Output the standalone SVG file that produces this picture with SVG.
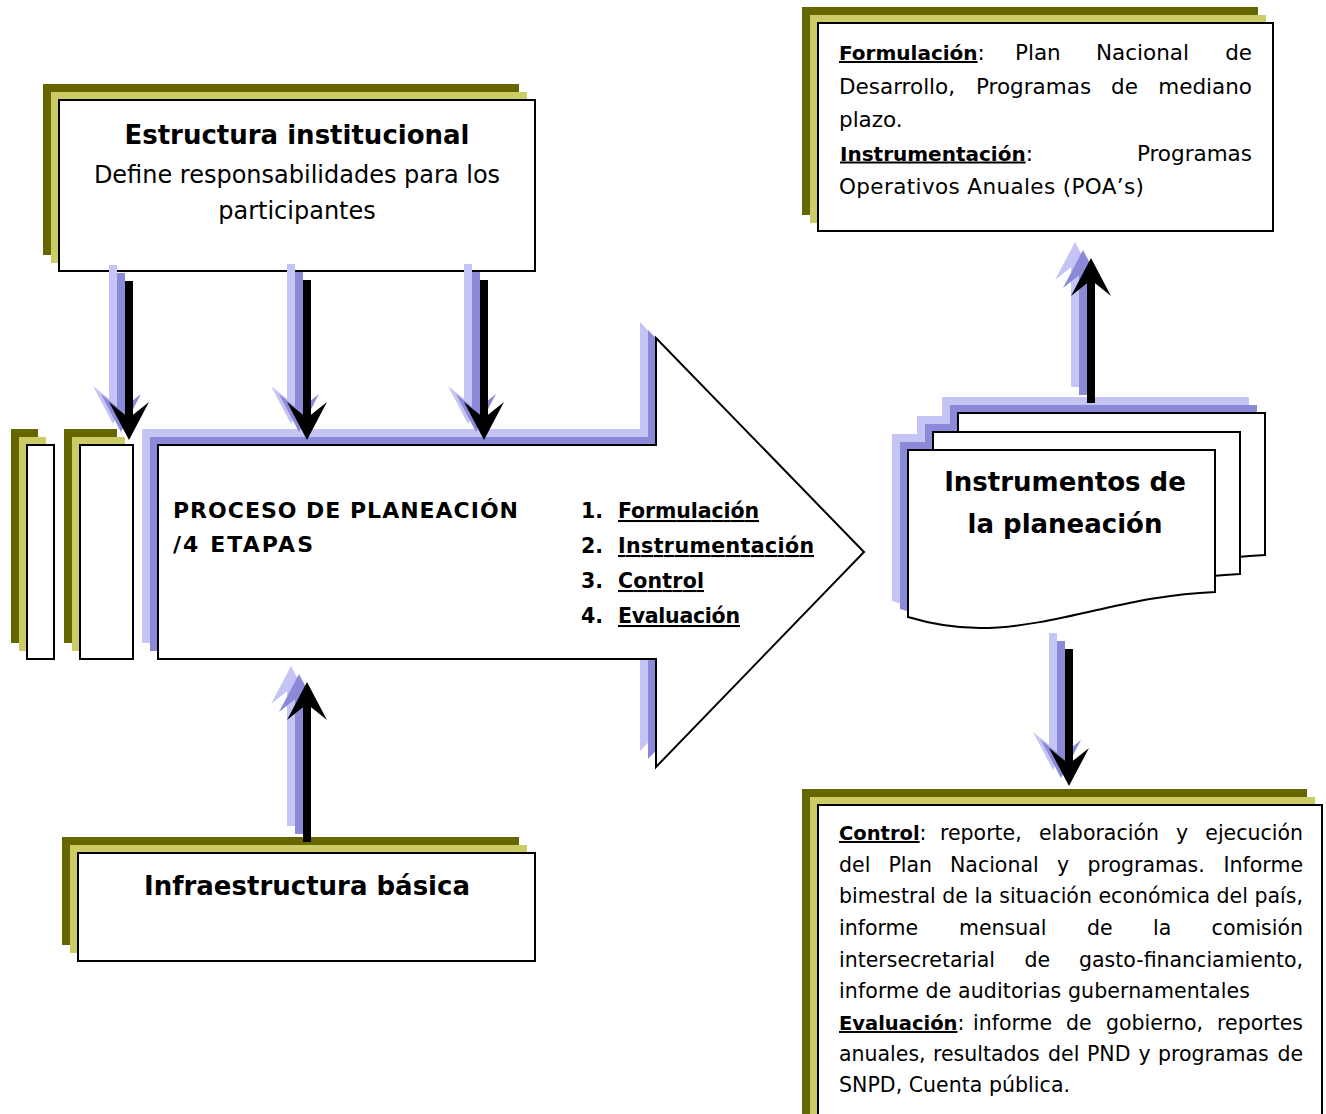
<svg xmlns="http://www.w3.org/2000/svg" xmlns:xlink="http://www.w3.org/1999/xlink" width="1326" height="1114" viewBox="0 0 1326 1114">
<style>
.o1{fill:#666600}
.o2{fill:#cccc66}
.box{fill:#ffffff;stroke:#000000;stroke-width:2}
.sh1{fill:#c4c4f5}
.sh2{fill:#8a8ad8}
.blk{fill:#000000}
text{font-family:"DejaVu Sans",Verdana,sans-serif;fill:#000000}
.b{font-weight:bold}
.u{text-decoration:underline}
.t26{font-size:26px}
.t24{font-size:24px}
.t22{font-size:22px}
.t21{font-size:21.5px}
.t20{font-size:20.5px}
.bt{font-size:20px}
.bb{font-size:19.5px}
.mid{text-anchor:middle}
.end{text-anchor:end}
</style>
<defs>
<path id="hd" d="M0,0 L20,-38 L0,-22 L-20,-38 Z"/>
<path id="hu" d="M0,0 L20,38 L0,22 L-20,38 Z"/>
<path id="doc" d="M0,0 H307 V142 C260,144 225,152 189,160 C150,169 110,178 72,178 C45,178 20,173 0,167 Z"/>
<polygon id="bigarrow" points="158,445 656,445 656,338 864,552 656,767 656,659 158,659"/>
<g id="a1"><rect x="125" y="281" width="8" height="140"/><use xlink:href="#hd" x="129" y="440"/></g>
<g id="a2"><rect x="303" y="280" width="8" height="141"/><use xlink:href="#hd" x="307" y="440"/></g>
<g id="a3"><rect x="480" y="280" width="8" height="141"/><use xlink:href="#hd" x="484" y="440"/></g>
<g id="a4"><rect x="303" y="701" width="8" height="141"/><use xlink:href="#hu" x="307" y="682"/></g>
<g id="a5"><rect x="1087" y="277" width="8" height="126"/><use xlink:href="#hu" x="1091" y="258"/></g>
<g id="a6"><rect x="1065" y="649" width="8" height="118"/><use xlink:href="#hd" x="1069" y="786"/></g>
</defs>

<g id="estructura">
<rect class="o1" x="43" y="84" width="476" height="171"/>
<rect class="o2" x="51" y="92" width="476" height="171"/>
<rect class="box" x="59" y="100" width="476" height="171"/>
<text class="b t26 mid" x="297" y="144">Estructura institucional</text>
<text class="t24 mid" x="297" y="183">Define responsabilidades para los</text>
<text class="t24 mid" x="297" y="219">participantes</text>
</g>

<g id="barra-1">
<rect class="o1" x="11" y="429" width="27" height="214"/>
<rect class="o2" x="19" y="437" width="27" height="214"/>
<rect class="box" x="27" y="445" width="27" height="214"/>
</g>
<g id="barra-2">
<rect class="o1" x="64" y="429" width="53" height="214"/>
<rect class="o2" x="72" y="437" width="53" height="214"/>
<rect class="box" x="80" y="445" width="53" height="214"/>
</g>

<g id="proceso">
<use xlink:href="#bigarrow" class="sh1" transform="translate(-16,-16)"/>
<use xlink:href="#bigarrow" class="sh2" transform="translate(-8,-8)"/>
<use xlink:href="#bigarrow" class="box"/>
<text class="b t22" x="173" y="518" textLength="345" lengthAdjust="spacing">PROCESO DE PLANEACIÓN</text>
<text class="b t22" x="173" y="552" textLength="140" lengthAdjust="spacing">/4 ETAPAS</text>
<text class="b t20" x="581" y="518">1.</text>
<text class="b t20 u" x="618" y="518" textLength="141" lengthAdjust="spacing">Formulación</text>
<text class="b t20" x="581" y="553">2.</text>
<text class="b t20 u" x="618" y="553" textLength="196" lengthAdjust="spacing">Instrumentación</text>
<text class="b t20" x="581" y="588">3.</text>
<text class="b t20 u" x="618" y="588" textLength="86" lengthAdjust="spacing">Control</text>
<text class="b t20" x="581" y="623">4.</text>
<text class="b t20 u" x="618" y="623" textLength="122" lengthAdjust="spacing">Evaluación</text>
</g>

<g id="infraestructura">
<rect class="o1" x="62" y="837" width="457" height="108"/>
<rect class="o2" x="70" y="845" width="457" height="108"/>
<rect class="box" x="78" y="853" width="457" height="108"/>
<text class="b t26 mid" x="307" y="895">Infraestructura básica</text>
</g>

<g id="instrumentos">
<use xlink:href="#doc" class="sh1" transform="translate(942,397)"/>
<use xlink:href="#doc" class="sh1" transform="translate(917,416)"/>
<use xlink:href="#doc" class="sh1" transform="translate(892,434)"/>
<use xlink:href="#doc" class="sh2" transform="translate(950,405)"/>
<use xlink:href="#doc" class="sh2" transform="translate(925,424)"/>
<use xlink:href="#doc" class="sh2" transform="translate(900,442)"/>
<use xlink:href="#doc" class="box" transform="translate(958,413)"/>
<use xlink:href="#doc" class="box" transform="translate(933,432)"/>
<use xlink:href="#doc" class="box" transform="translate(908,450)"/>
<text class="b t26 mid" x="1065" y="491">Instrumentos de</text>
<text class="b t26 mid" x="1065" y="533">la planeación</text>
</g>

<g id="formulacion-instrumentacion">
<rect class="o1" x="802" y="7" width="456" height="208"/>
<rect class="o2" x="810" y="15" width="456" height="208"/>
<rect class="box" x="818" y="23" width="455" height="208"/>
<text class="t21" x="839" y="60"><tspan class="b u bt">Formulación</tspan>:</text>
<text class="t21" x="1015" y="60">Plan</text>
<text class="t21" x="1096" y="60">Nacional</text>
<text class="t21 end" x="1252" y="60">de</text>
<text class="t21" x="839" y="93.5">Desarrollo,</text>
<text class="t21" x="976" y="93.5">Programas</text>
<text class="t21" x="1111" y="93.5">de</text>
<text class="t21 end" x="1252" y="93.5">mediano</text>
<text class="t21" x="839" y="127">plazo.</text>
<text class="t21" x="840" y="160.5"><tspan class="b u bt">Instrumentación</tspan>:</text>
<text class="t21 end" x="1252" y="160.5">Programas</text>
<text class="t21" x="839" y="194" textLength="305" lengthAdjust="spacing">Operativos Anuales (POA’s)</text>
</g>

<g id="control-evaluacion">
<rect class="o1" x="802" y="789" width="505" height="340"/>
<rect class="o2" x="810" y="797" width="505" height="340"/>
<rect class="box" x="818" y="805" width="504" height="340"/>
<text class="t20" x="839" y="840"><tspan class="b u bb">Control</tspan>:</text>
<text class="t20" x="940" y="840">reporte,</text>
<text class="t20" x="1039" y="840">elaboración</text>
<text class="t20" x="1176" y="840">y</text>
<text class="t20 end" x="1303" y="840">ejecución</text>
<text class="t20" x="839" y="872">del</text>
<text class="t20" x="888.5" y="872">Plan</text>
<text class="t20" x="950" y="872">Nacional</text>
<text class="t20" x="1057" y="872">y</text>
<text class="t20" x="1087.5" y="872">programas.</text>
<text class="t20 end" x="1303" y="872">Informe</text>
<text class="t20" x="839" y="903" textLength="464" lengthAdjust="spacing">bimestral de la situación económica del país,</text>
<text class="t20" x="839" y="935">informe</text>
<text class="t20" x="959" y="935">mensual</text>
<text class="t20" x="1087" y="935">de</text>
<text class="t20" x="1153" y="935">la</text>
<text class="t20 end" x="1303" y="935">comisión</text>
<text class="t20" x="839" y="967">intersecretarial</text>
<text class="t20" x="1024.5" y="967">de</text>
<text class="t20 end" x="1303" y="967">gasto-financiamiento,</text>
<text class="t20" x="839" y="998" textLength="411" lengthAdjust="spacing">informe de auditorias gubernamentales</text>
<text class="t20" x="839" y="1030"><tspan class="b u bb">Evaluación</tspan>:</text>
<text class="t20" x="973" y="1030">informe</text>
<text class="t20" x="1066" y="1030">de</text>
<text class="t20" x="1106" y="1030">gobierno,</text>
<text class="t20 end" x="1303" y="1030">reportes</text>
<text class="t20" x="839" y="1061">anuales,</text>
<text class="t20" x="933" y="1061">resultados</text>
<text class="t20" x="1048" y="1061">del</text>
<text class="t20" x="1087" y="1061">PND</text>
<text class="t20" x="1138.5" y="1061">y</text>
<text class="t20" x="1158" y="1061">programas</text>
<text class="t20 end" x="1303" y="1061">de</text>
<text class="t20" x="839" y="1092" textLength="231" lengthAdjust="spacing">SNPD, Cuenta pública.</text>
</g>

<g id="connectors">
<use xlink:href="#a1" class="sh1" transform="translate(-16,-16)"/>
<use xlink:href="#a1" class="sh2" transform="translate(-8,-8)"/>
<use xlink:href="#a1" class="blk"/>
<use xlink:href="#a2" class="sh1" transform="translate(-16,-16)"/>
<use xlink:href="#a2" class="sh2" transform="translate(-8,-8)"/>
<use xlink:href="#a2" class="blk"/>
<use xlink:href="#a3" class="sh1" transform="translate(-16,-16)"/>
<use xlink:href="#a3" class="sh2" transform="translate(-8,-8)"/>
<use xlink:href="#a3" class="blk"/>
<use xlink:href="#a4" class="sh1" transform="translate(-16,-16)"/>
<use xlink:href="#a4" class="sh2" transform="translate(-8,-8)"/>
<use xlink:href="#a4" class="blk"/>
<use xlink:href="#a5" class="sh1" transform="translate(-16,-16)"/>
<use xlink:href="#a5" class="sh2" transform="translate(-8,-8)"/>
<use xlink:href="#a5" class="blk"/>
<use xlink:href="#a6" class="sh1" transform="translate(-16,-16)"/>
<use xlink:href="#a6" class="sh2" transform="translate(-8,-8)"/>
<use xlink:href="#a6" class="blk"/>
</g>
</svg>
